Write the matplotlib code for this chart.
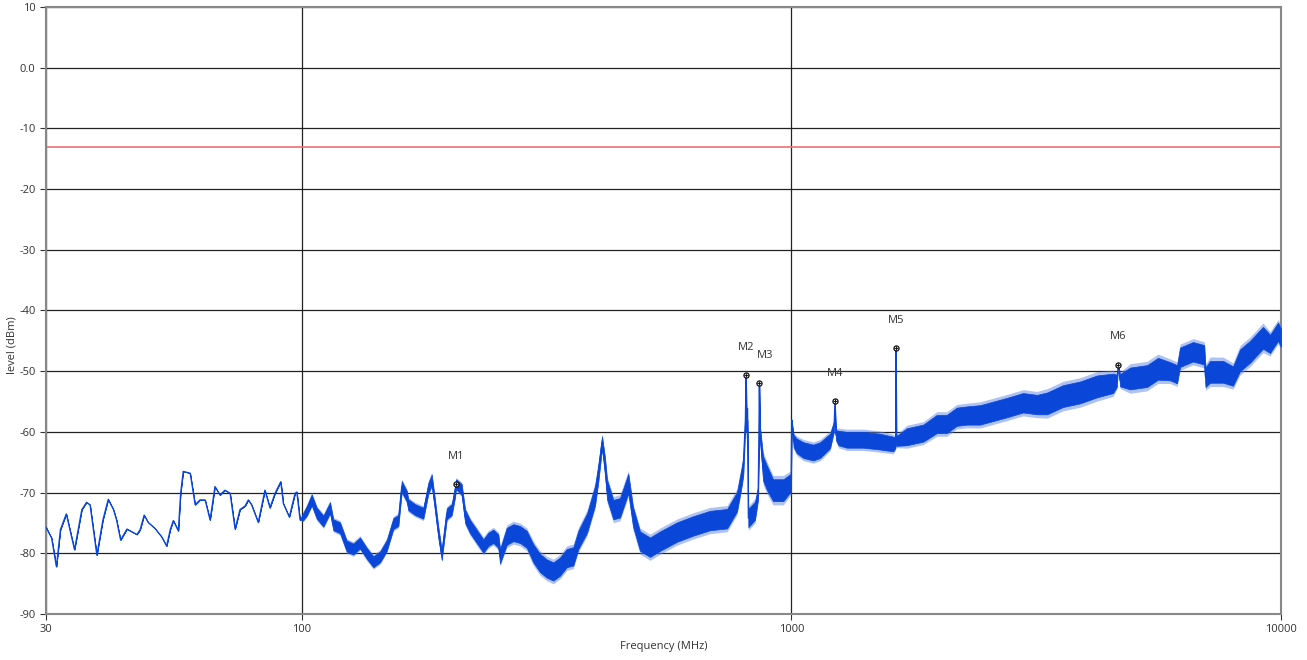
import matplotlib
matplotlib.use("Agg")
import matplotlib.pyplot as plt
from matplotlib.ticker import FixedLocator, NullLocator

plt.rcParams['font.family'] = ['Open Sans', 'DejaVu Sans']

# ---- data ----
freq_mhz = [
    30.0, 30.8, 31.5, 32.1, 33.0, 34.3, 35.5, 36.3, 36.9, 38.1,
    39.2, 40.2, 41.2, 41.8, 42.6, 43.9, 46.0, 46.7, 47.6, 48.5,
    50.1, 51.7, 52.9, 53.8, 54.6, 55.9, 56.5, 57.2, 59.1, 60.5,
    61.9, 63.4, 64.9, 66.4, 68.0, 69.6, 71.3, 73.0, 74.7, 76.5,
    77.7, 78.9, 81.4, 84.0, 86.0, 88.1, 90.5, 91.6, 94.2, 96.8,
    97.6, 99.1,
    100.5, 102.3, 104.7, 107.2, 110.6, 114.1, 115.9, 119.6, 123.4, 127.3,
    131.4, 135.6, 139.9, 144.4, 149.0, 153.7, 157.4, 159.9, 163.7, 164.9,
    170.2, 177.0, 181.2, 184.1, 187.0, 189.9, 193.0, 197.6, 202.3, 205.5,
    206.4, 212.0, 215.4, 220.5, 227.5, 234.7, 240.3, 246.0, 251.9, 253.9,
    262.0, 270.3, 278.9, 287.9, 296.9, 306.4, 316.2, 326.2, 336.6, 347.4,
    358.4, 366.9, 382.3, 396.9, 403.1, 410.2, 416.0, 420.0, 432.6, 446.4,
    464.2, 474.6, 490.5, 514.1, 538.8, 583.8, 629.4, 681.9, 738.7, 774.0,
    792.6, 797.4, 805.0, 807.6, 810.0, 812.6, 816.4, 842.3, 855.0, 857.5,
    859.7, 862.0, 874.8, 890.2, 917.0, 962.5, 993.0, 998.0,
    1001.0, 1010.0, 1025.0, 1057.5, 1108.0, 1144.0, 1199.0, 1222.0, 1227.0, 1232.0,
    1247.0, 1297.0, 1402.0, 1516.0, 1615.0, 1632.0, 1635.0, 1638.0, 1720.0, 1859.0,
    1981.0, 2076.0, 2176.0, 2281.0, 2428.0, 2753.0, 2972.0, 3174.0, 3330.0, 3588.0,
    3886.0, 4210.0, 4539.0, 4620.0, 4653.0, 4690.0, 4917.0, 5327.0, 5607.0, 5934.0,
    6133.0, 6220.0, 6612.0, 6970.0, 7010.0, 7163.0, 7615.0, 7980.0, 8247.0, 8645.0,
    9189.0, 9499.0, 9863.0, 10000.0,
]
level_dbm = [
    -75.7, -77.5, -82.2, -76.1, -73.5, -79.4, -72.8, -71.6, -72.0, -80.3,
    -74.5, -71.1, -72.8, -74.5, -77.8, -76.0, -76.9, -76.1, -73.7, -74.9,
    -75.9, -77.3, -78.8, -76.1, -74.6, -76.3, -70.1, -66.5, -66.8, -72.0,
    -71.2, -71.2, -74.5, -69.0, -70.4, -69.6, -70.1, -76.0, -72.8, -72.2,
    -71.2, -72.0, -74.9, -69.6, -72.5, -70.1, -68.2, -71.8, -74.0, -70.1,
    -69.9, -74.5,
    -74.0, -73.0, -71.2, -73.4, -74.7, -72.5, -75.3, -75.8, -78.8, -79.3,
    -78.3, -80.0, -81.4, -80.6, -78.7, -75.1, -74.6, -69.0, -70.6, -72.0,
    -72.8, -73.4, -69.3, -67.9, -72.1, -76.5, -80.3, -73.5, -72.8, -69.8,
    -68.6, -69.5, -73.9, -75.6, -77.2, -78.8, -77.7, -77.2, -78.0, -80.5,
    -77.2, -76.6, -76.9, -77.7, -80.0, -81.6, -82.5, -83.0, -82.2, -80.8,
    -80.5, -77.8, -75.0, -70.5, -66.8, -61.7, -65.7, -69.5, -72.8, -72.5,
    -68.5, -74.0, -78.0, -79.0, -78.0, -76.5, -75.5, -74.6, -74.3, -71.5,
    -67.0, -65.5, -58.0, -50.6, -60.0, -57.0, -74.2, -73.0, -70.0, -62.0,
    -52.0, -60.0, -66.0, -67.5, -69.6, -69.6, -68.5, -69.0,
    -58.0, -61.5, -62.3, -63.0, -63.4, -63.0, -61.5, -59.0, -54.9, -60.5,
    -61.0, -61.3, -61.3, -61.6, -62.0, -61.8, -46.2, -61.5, -60.8, -60.2,
    -58.7, -58.7, -57.5, -57.3, -57.2, -56.0, -55.2, -55.5, -55.3, -54.1,
    -53.5, -52.5, -52.0, -51.6, -48.9, -51.5, -51.2, -50.8, -49.6, -50.0,
    -50.5, -47.7, -46.8, -47.3, -51.0, -50.1, -50.1, -50.8, -48.2, -46.8,
    -44.5, -45.5, -43.5, -44.5,
]
# half-width of the noisy band around the trace (dB)
spread_db = [
    0, 0, 0, 0, 0, 0, 0, 0, 0, 0,
    0, 0, 0, 0, 0, 0, 0, 0, 0, 0,
    0, 0, 0, 0, 0, 0, 0, 0, 0, 0,
    0, 0, 0, 0, 0, 0, 0, 0, 0, 0,
    0, 0, 0, 0, 0, 0, 0, 0, 0, 0,
    0, 0,
    0.6, 0.8, 0.9, 0.9, 0.9, 0.9, 0.9, 0.9, 0.9, 0.9,
    0.9, 0.9, 0.9, 0.9, 0.9, 0.9, 0.9, 0.9, 0.9, 0.9,
    0.9, 0.9, 0.9, 0.9, 0.9, 0.9, 0.8, 0.9, 0.9, 0.9,
    0.8, 0.9, 1.1, 1.1, 1.1, 1.1, 1.1, 1.1, 1.1, 1.2,
    1.4, 1.4, 1.4, 1.4, 1.5, 1.5, 1.5, 1.5, 1.5, 1.5,
    1.5, 1.5, 1.6, 1.6, 1.4, 1.0, 1.4, 1.6, 1.6, 1.6,
    1.6, 1.6, 1.6, 1.6, 1.6, 1.6, 1.6, 1.6, 1.6, 1.6,
    1.5, 1.5, 1.0, 0.0, 1.0, 1.0, 1.5, 1.5, 1.0, 1.0,
    0.0, 1.0, 2.0, 2.0, 1.8, 1.8, 1.5, 1.0,
    0.0, 1.0, 1.2, 1.3, 1.3, 1.3, 1.2, 0.8, 0.0, 0.8,
    1.2, 1.3, 1.3, 1.3, 1.2, 0.8, 0.0, 0.8, 1.4, 1.4,
    1.5, 1.5, 1.5, 1.5, 1.6, 1.6, 1.6, 1.6, 1.8, 1.8,
    1.8, 1.8, 1.6, 1.0, 0.0, 1.0, 1.8, 1.8, 1.8, 1.5,
    1.5, 1.6, 1.6, 1.6, 1.6, 1.8, 1.8, 1.6, 1.8, 1.8,
    1.8, 1.5, 1.5, 1.5,
]
assert len(freq_mhz) == len(level_dbm) == len(spread_db)

marker_names = ["M1", "M2", "M3", "M4", "M5", "M6"]
marker_freq = [206.4, 807.6, 859.7, 1227.0, 1635.0, 4653.0]
marker_level = [-68.6, -50.6, -52.0, -54.9, -46.2, -48.9]

limit_dbm = -13.0

x_ticks = [30, 100, 1000, 10000]
x_tick_labels = ["30", "100", "1000", "10000"]
y_ticks = [-90, -80, -70, -60, -50, -40, -30, -20, -10, 0, 10]
y_tick_labels = ["-90", "-80", "-70", "-60", "-50", "-40", "-30", "-20", "-10", "0.0", "10"]

# ---- figure ----
fig = plt.figure(figsize=(13.07, 6.60), dpi=100)
ax = fig.add_axes([46 / 1307, 1 - 614 / 660, 1235 / 1307, 607 / 660])

ax.set_xscale("log")
ax.set_xlim(30, 10000)
ax.set_ylim(-90, 10)

trace_color = "#0a46d8"
fringe_color = "#5f86e8"
lo = [l - s for l, s in zip(level_dbm, spread_db)]
hi = [l + s for l, s in zip(level_dbm, spread_db)]
lo_f = [l - 1.35 * s for l, s in zip(level_dbm, spread_db)]
hi_f = [l + 1.35 * s for l, s in zip(level_dbm, spread_db)]
ax.fill_between(freq_mhz, lo_f, hi_f, color=fringe_color, lw=0, alpha=0.5, zorder=3)
ax.fill_between(freq_mhz, lo, hi, color=trace_color, lw=0.5, zorder=3)
ax.plot(freq_mhz, level_dbm, color=trace_color, lw=0.9, zorder=4)

ax.axhline(limit_dbm, color="#f07070", lw=1.2, zorder=2)

ax.scatter(marker_freq, marker_level, s=14, facecolor="#dddddd",
           edgecolor="black", linewidth=0.8, zorder=6)
ax.scatter(marker_freq, marker_level, s=10, marker="+", color="black",
           linewidth=0.6, zorder=7)
for name, f, v in zip(marker_names, marker_freq, marker_level):
    dx = 4 if name == "M3" else 0
    ax.annotate(name, (f, v), xytext=(dx, 16), textcoords="offset points",
                ha="center", va="bottom", fontsize=8, color="#333333")

ax.xaxis.set_major_locator(FixedLocator(x_ticks))
ax.xaxis.set_minor_locator(NullLocator())
ax.set_xticklabels(x_tick_labels)
ax.set_yticks(y_ticks)
ax.set_yticklabels(y_tick_labels)
ax.tick_params(axis="both", labelsize=8, colors="#333333", length=4,
               width=0.8, direction="out")

ax.grid(True, which="major", color="#222222", lw=0.9, zorder=1)
ax.set_axisbelow(True)
for side in ["left", "right", "top", "bottom"]:
    ax.spines[side].set_color("#888888")
    ax.spines[side].set_linewidth(1.5)

ax.set_xlabel("Frequency (MHz)", fontsize=8, color="#333333")
ax.set_ylabel("level (dBm)", fontsize=8, color="#333333")
ax.xaxis.set_label_coords(0.5, -(647 - 614) / 607)
ax.xaxis.label.set_verticalalignment("center")
ax.yaxis.set_label_coords(-(46 - 12) / 1235, 1 - (345 - 7) / 607)
ax.yaxis.label.set_verticalalignment("center")

fig.savefig("out.png", dpi=100)
